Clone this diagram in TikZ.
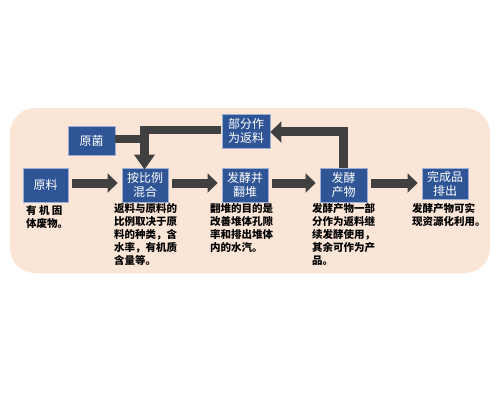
\documentclass[tikz,border=0pt]{standalone}
\usepackage{fontspec}
\newfontfamily\cjk{Noto Sans CJK SC}
\usetikzlibrary{arrows.meta}
\definecolor{bgpeach}{HTML}{FBE5D6}
\definecolor{boxblue}{HTML}{2F5597}
\definecolor{boxline}{HTML}{9DB0D3}
\definecolor{arrowgray}{HTML}{404040}
\tikzset{
  stepbox/.style={draw=boxline, line width=0.8pt, fill=boxblue, text=white, inner sep=0pt,
    align=center, font=\cjk\fontsize{12}{14}\selectfont},
  desc/.style={anchor=north west, align=left, inner sep=0pt, text=black,
    font=\cjk\bfseries\fontsize{10.5}{13}\selectfont},
  bigarrow/.style={draw=arrowgray, line width=9pt, line join=miter,
    -{Triangle[width=19pt,length=10pt]}},
  fbline/.style={draw=arrowgray, line width=8pt, line join=miter},
  fbarrow/.style={draw=arrowgray, line width=9pt, line join=miter,
    -{Triangle[width=21pt,length=11pt]}}
}
\begin{document}
\begin{tikzpicture}[x=1pt,y=-1pt]
\useasboundingbox (0,0) rectangle (500,406);
\fill[bgpeach, rounded corners=25pt] (10,108) rectangle (490,273);

\node[stepbox, minimum width=45pt, minimum height=34pt] (yl) at (45.5,185) {原料};
\node[stepbox, minimum width=47pt, minimum height=29pt] (yj) at (91.5,140.5) {原菌};
\node[stepbox, minimum width=46pt, minimum height=34pt] (hh) at (145,185) {按比例\\混合};
\node[stepbox, minimum width=48pt, minimum height=34pt] (fl) at (246,131) {部分作\\为返料};
\node[stepbox, minimum width=46pt, minimum height=34pt] (fj) at (245,185) {发酵并\\翻堆};
\node[stepbox, minimum width=47pt, minimum height=34pt] (cw) at (343.5,185) {发酵\\产物};
\node[stepbox, minimum width=46pt, minimum height=31pt] (wc) at (445,183.5) {完成品\\排出};

\coordinate (j1) at (144.5,130);
\coordinate (j2) at (343,132);

% main flow
\draw[bigarrow] ([xshift=4pt]yl.east |- 0,183) -- ([xshift=-4pt]hh.west |- 0,183);
\draw[bigarrow] ([xshift=4pt]hh.east |- 0,183) -- ([xshift=-4pt]fj.west |- 0,183);
\draw[bigarrow] ([xshift=4pt]fj.east |- 0,183) -- ([xshift=-4pt]cw.west |- 0,183);
\draw[bigarrow] ([xshift=4pt]cw.east |- 0,183) -- ([xshift=-4pt]wc.west |- 0,183);

% feedback
\draw[fbarrow] (cw.north -| j2) -- (j2) -- (fl.east |- j2);
\draw[fbline] (yj.east |- 0,139) -- (j1 |- 0,139);
\draw[fbline, -{Triangle[width=20pt,length=15pt]}, line width=8.5pt]
  ([xshift=-1pt]fl.west |- j1) -- (j1) -- ([yshift=-2pt]hh.north -| j1);

% descriptions
\node[desc] (d1) at (26,205) {有~机~固\\体废物。};
\node[desc] (d2) at (114,203) {返料与原料的\\比例取决于原\\料的种类，含\\水率，有机质\\含量等。};
\node[desc] (d3) at (210,203) {翻堆的目的是\\改善堆体孔隙\\率和排出堆体\\内的水汽。};
\node[desc] (d4) at (312,203) {发酵产物一部\\分作为返料继\\续发酵使用，\\其余可作为产\\品。};
\node[desc] (d5) at (412,203) {发酵产物可实\\现资源化利用。};
\end{tikzpicture}
\end{document}
